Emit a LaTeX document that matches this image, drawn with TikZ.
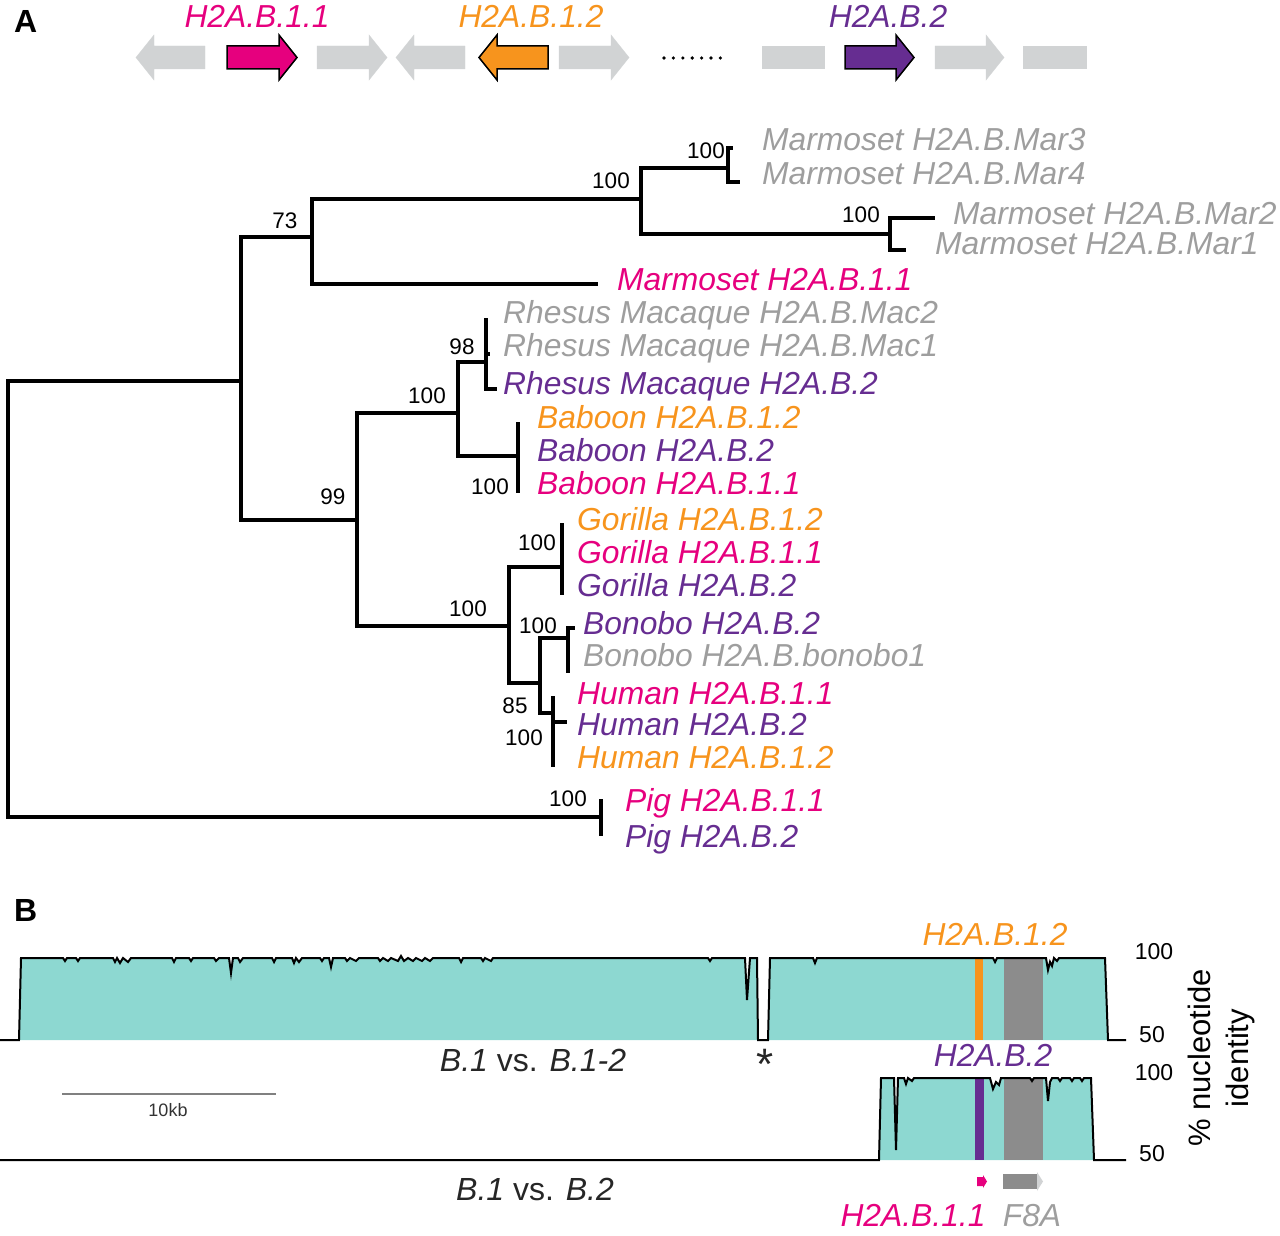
\documentclass[tikz,border=0pt]{standalone}
\usepackage{fontspec}
\setmainfont{Liberation Sans}
\definecolor{hpink}{HTML}{E6007E}
\definecolor{horange}{HTML}{F7941D}
\definecolor{hpurple}{HTML}{662D91}
\definecolor{hgray}{HTML}{9E9E9E}
\definecolor{glight}{HTML}{D1D3D4}
\definecolor{hteal}{HTML}{8DD8D1}
\definecolor{gdark}{HTML}{8C8C8C}
\newcommand\rgene[3]{\filldraw[#3] (#1,46) -- (#2-18,46) -- (#2-18,35) -- (#2,57.5) -- (#2-18,80) -- (#2-18,69) -- (#1,69) -- cycle;}
\newcommand\lgene[3]{\filldraw[#3] (#2,46) -- (#1+18,46) -- (#1+18,35) -- (#1,57.5) -- (#1+18,80) -- (#1+18,69) -- (#2,69) -- cycle;}
\def\trackA{(0,1040) -- (19,1040) -- (21,958)
 -- (63,958) -- (65,961) -- (67,958) -- (76,958) -- (78,961) -- (80,958)
 -- (113,958) -- (115,962) -- (117,958) -- (120,963) -- (123,958) -- (128,962) -- (131,958)
 -- (172,958) -- (174,962) -- (176,958) -- (189,958) -- (191,961) -- (193,958)
 -- (214,958) -- (216,961) -- (219,958) -- (229,958) -- (231,973) -- (233,958) -- (238,958) -- (240,962) -- (243,958)
 -- (272,958) -- (274,962) -- (276,958) -- (292,958) -- (294,963) -- (296,958) -- (299,962) -- (302,958)
 -- (320,958) -- (322,961) -- (324,958) -- (329,958) -- (331,967) -- (333,958) -- (345,958) -- (347,961) -- (350,958) -- (356,961) -- (359,958)
 -- (378,958) -- (380,961) -- (383,958) -- (388,961) -- (391,958) -- (398,961) -- (401,956) -- (404,961) -- (408,958) -- (413,961) -- (416,958) -- (422,961) -- (425,958) -- (430,961) -- (433,958)
 -- (459,958) -- (461,962) -- (463,958) -- (481,958) -- (483,961) -- (485,958) -- (491,961) -- (493,958)
 -- (708,958) -- (710,961) -- (712,958)
 -- (745,958) -- (747,1000) -- (750,958) -- (757,958) -- (758,1040) -- (768,1040) -- (770,958)
 -- (813,958) -- (815,963) -- (817,958) -- (993,958) -- (995,962) -- (997,958)
 -- (1046,958) -- (1048,970) -- (1050,962) -- (1052,966) -- (1054,958) -- (1057,961) -- (1059,958)
 -- (1105,958) -- (1108,1040) -- (1126,1040)}
\def\trackB{(0,1160) -- (879,1160) -- (881,1078) -- (894,1078) -- (896,1150) -- (898,1078) -- (904,1078) -- (906,1084) -- (908,1078) -- (912,1081) -- (914,1078)
 -- (990,1078) -- (993,1089) -- (996,1082) -- (999,1085) -- (1001,1078)
 -- (1030,1078) -- (1032,1081) -- (1034,1078) -- (1046,1078) -- (1048,1101) -- (1050,1082) -- (1052,1078) -- (1058,1078) -- (1060,1081) -- (1062,1078) -- (1070,1078) -- (1072,1081) -- (1074,1078) -- (1080,1078) -- (1082,1081) -- (1084,1078)
 -- (1091,1078) -- (1094,1160) -- (1126,1160)}
\begin{document}
\begin{tikzpicture}[x=1pt,y=-1pt,
  branch/.style={line width=3.2pt},
  taxon/.style={anchor=base west, inner sep=0pt, font=\fontsize{31.8}{36}\selectfont\itshape},
  boot/.style={inner sep=0pt, font=\fontsize{22.5}{26}\selectfont},
  genelab/.style={anchor=base, inner sep=0pt, font=\fontsize{31.8}{36}\selectfont\itshape},
  panel/.style={anchor=base west, inner sep=0pt, font=\fontsize{32}{36}\selectfont\bfseries},
  axis/.style={inner sep=0pt, font=\fontsize{23}{26}\selectfont},
  track/.style={line width=2pt, line join=miter},
]
\useasboundingbox (0,0) rectangle (1280,1236);

% ---------- panel labels
\node[panel] (pA) at (14,33) {A};
\node[panel] (pB) at (14,921) {B};

% ---------- gene arrows (top)
\lgene{136}{205}{glight}
\rgene{227}{297}{fill=hpink, draw=black, line width=1.5pt}
\rgene{317}{387}{glight}
\lgene{396}{465}{glight}
\lgene{479}{548}{fill=horange, draw=black, line width=1.5pt}
\rgene{559}{629}{glight}
\foreach \i in {0,...,6} \fill (664+9.4*\i,58) circle (1.8);
\fill[glight] (762,46) rectangle (825,69);
\rgene{845}{914}{fill=hpurple, draw=black, line width=1.5pt}
\rgene{935}{1004}{glight}
\fill[glight] (1023,46) rectangle (1087,69);
\node[genelab, text=hpink] (g11) at (257,28) {H2A.B.1.1};
\node[genelab, text=horange] (g12) at (531,28) {H2A.B.1.2};
\node[genelab, text=hpurple] (g2) at (888,28) {H2A.B.2};

% ---------- tree coordinates
\coordinate (R) at (8,600);
\coordinate (n1) at (241,381);
\coordinate (n2) at (312,237);
\coordinate (n3) at (641,199);
\coordinate (n4) at (728,168);
\coordinate (n5) at (890,234);
\coordinate (m11) at (598,284);
\coordinate (n7) at (357,520);
\coordinate (n8) at (458,413);
\coordinate (n9) at (486,362);
\coordinate (nb) at (518,456);
\coordinate (n10) at (509,626);
\coordinate (ng) at (562,567);
\coordinate (n11) at (540,683);
\coordinate (nbo) at (568,638);
\coordinate (nh) at (553,713);
\coordinate (P) at (601,817);
% tips
\coordinate (t3) at (733,148);
\coordinate (t4) at (740,182);
\coordinate (t2) at (935,218);
\coordinate (t1) at (906,250);
\coordinate (mac2) at (486,318);
\coordinate (mac1) at (490,354);
\coordinate (rb2) at (497,389);
\coordinate (bab1) at (518,422);
\coordinate (bab3) at (518,493);
\coordinate (gor1) at (562,523);
\coordinate (gor3) at (562,595);
\coordinate (bo1) at (575,628);
\coordinate (bo2) at (568,673);
\coordinate (hu1) at (553,696);
\coordinate (hu2) at (567,722);
\coordinate (hu3) at (553,767);
\coordinate (pg1) at (601,799);
\coordinate (pg2) at (601,836);

\draw[branch] (R) |- (n1);
\draw[branch] (R) |- (P);
\draw[branch] (n1) |- (n2);
\draw[branch] (n1) |- (n7);
\draw[branch] (n2) |- (n3);
\draw[branch] (n2) |- (m11);
\draw[branch] (n3) |- (n4);
\draw[branch] (n3) |- (n5);
\draw[branch] (n4) |- (t3);
\draw[branch] (n4) |- (t4);
\draw[branch] (n5) |- (t2);
\draw[branch] (n5) |- (t1);
\draw[branch] (n7) |- (n8);
\draw[branch] (n7) |- (n10);
\draw[branch] (n8) |- (n9);
\draw[branch] (n8) |- (nb);
\draw[branch] (n9) |- (mac2);
\draw[branch] (n9) |- (mac1);
\draw[branch] (n9) |- (rb2);
\draw[branch] (nb) |- (bab1);
\draw[branch] (nb) |- (bab3);
\draw[branch] (n10) |- (ng);
\draw[branch] (n10) |- (n11);
\draw[branch] (ng) |- (gor1);
\draw[branch] (ng) |- (gor3);
\draw[branch] (n11) |- (nbo);
\draw[branch] (n11) |- (nh);
\draw[branch] (nbo) |- (bo1);
\draw[branch] (nbo) |- (bo2);
\draw[branch] (nh) |- (hu1);
\draw[branch] (nh) |- (hu2);
\draw[branch] (nh) |- (hu3);
\draw[branch] (P) |- (pg1);
\draw[branch] (P) |- (pg2);

% bootstrap values
\node[boot] (b73) at (285,221) {73};
\node[boot] (b3) at (611,181) {100};
\node[boot] (b4) at (706,151) {100};
\node[boot] (b5) at (861,215) {100};
\node[boot] (b98) at (462,347) {98};
\node[boot] (b8) at (427,396) {100};
\node[boot] (bb) at (490,487) {100};
\node[boot] (b99) at (333,497) {99};
\node[boot] (bg) at (537,543) {100};
\node[boot] (b10) at (468,609) {100};
\node[boot] (bbo) at (538,626) {100};
\node[boot] (b85) at (515,706) {85};
\node[boot] (bh) at (524,738) {100};
\node[boot] (bp) at (568,799) {100};

% taxa
\node[taxon, text=hgray] (Mar3) at (762,151) {Marmoset H2A.B.Mar3};
\node[taxon, text=hgray] (Mar4) at (762,185) {Marmoset H2A.B.Mar4};
\node[taxon, text=hgray] (Mar2) at (953,224) {Marmoset H2A.B.Mar2};
\node[taxon, text=hgray] (Mar1) at (935,254) {Marmoset H2A.B.Mar1};
\node[taxon, text=hpink] (MarB) at (617,290) {Marmoset H2A.B.1.1};
\node[taxon, text=hgray] (Mac2) at (503,323) {Rhesus Macaque H2A.B.Mac2};
\node[taxon, text=hgray] (Mac1) at (503,356) {Rhesus Macaque H2A.B.Mac1};
\node[taxon, text=hpurple] (RhB2) at (503,394) {Rhesus Macaque H2A.B.2};
\node[taxon, text=horange] (Bab12) at (537,428) {Baboon H2A.B.1.2};
\node[taxon, text=hpurple] (Bab2) at (537,461) {Baboon H2A.B.2};
\node[taxon, text=hpink] (Bab11) at (537,494) {Baboon H2A.B.1.1};
\node[taxon, text=horange] (Gor12) at (577,530) {Gorilla H2A.B.1.2};
\node[taxon, text=hpink] (Gor11) at (577,563) {Gorilla H2A.B.1.1};
\node[taxon, text=hpurple] (Gor2) at (577,596) {Gorilla H2A.B.2};
\node[taxon, text=hpurple] (Bon2) at (583,634) {Bonobo H2A.B.2};
\node[taxon, text=hgray] (Bon1) at (583,666) {Bonobo H2A.B.bonobo1};
\node[taxon, text=hpink] (Hum11) at (577,704) {Human H2A.B.1.1};
\node[taxon, text=hpurple] (Hum2) at (577,735) {Human H2A.B.2};
\node[taxon, text=horange] (Hum12) at (577,768) {Human H2A.B.1.2};
\node[taxon, text=hpink] (Pig11) at (625,811) {Pig H2A.B.1.1};
\node[taxon, text=hpurple] (Pig2) at (625,847) {Pig H2A.B.2};

% ---------- panel B
\fill[hteal] \trackA -- cycle;
\fill[horange] (975,958) rectangle (983,1040);
\fill[gdark] (1004,958) rectangle (1043,1040);
\draw[track] \trackA;

\fill[hteal] \trackB -- cycle;
\fill[hpurple] (975,1078) rectangle (984,1160);
\fill[gdark] (1004,1078) rectangle (1043,1160);
\draw[track] \trackB;

\node[genelab, text=horange] (l12) at (995,945) {H2A.B.1.2};
\node[genelab, text=hpurple] (l2) at (993,1066) {H2A.B.2};
\node[axis, anchor=base] (a100) at (1154,959) {100};
\node[axis, anchor=base] (a50) at (1152,1042) {50};
\node[axis, anchor=base] (b100) at (1154,1080) {100};
\node[axis, anchor=base] (b50) at (1152,1161) {50};
\node[inner sep=0pt, rotate=90, align=center, font=\fontsize{31}{38}\selectfont] (ylab) at (1221,1058) {\% nucleotide\\identity};
\node[inner sep=0pt, anchor=north, font=\fontsize{44}{46}\selectfont, text=black!85] (star) at (765,1049) {*};
\node[genelab, text=black!85, font=\fontsize{32}{36}\selectfont] (cmp1) at (533,1071) {\textit{B.1} vs. \textit{B.1-2}};
\node[genelab, text=black!85, font=\fontsize{32}{36}\selectfont] (cmp2) at (535,1200) {\textit{B.1} vs. \textit{B.2}};

% scale bar
\coordinate (sb1) at (62,1094);
\coordinate (sb2) at (276,1094);
\draw[line width=2pt, color=gray] (sb1) -- (sb2);
\node[inner sep=0pt, font=\fontsize{18}{20}\selectfont, text=black!80] (kb) at (168,1110) {10kb};

% small genes under panel B
\fill[hpink] (977,1177) -- (983,1177) -- (983,1175) -- (987,1181.5) -- (983,1188) -- (983,1186) -- (977,1186) -- cycle;
\fill[gdark] (1003,1174) rectangle (1037,1189);
\fill[glight] (1037,1172) -- (1043,1181.5) -- (1037,1191) -- cycle;
\node[genelab, text=hpink] (lb11) at (913,1226) {H2A.B.1.1};
\node[genelab, text=hgray] (lf8) at (1032,1226) {F8A};
\end{tikzpicture}
\end{document}
